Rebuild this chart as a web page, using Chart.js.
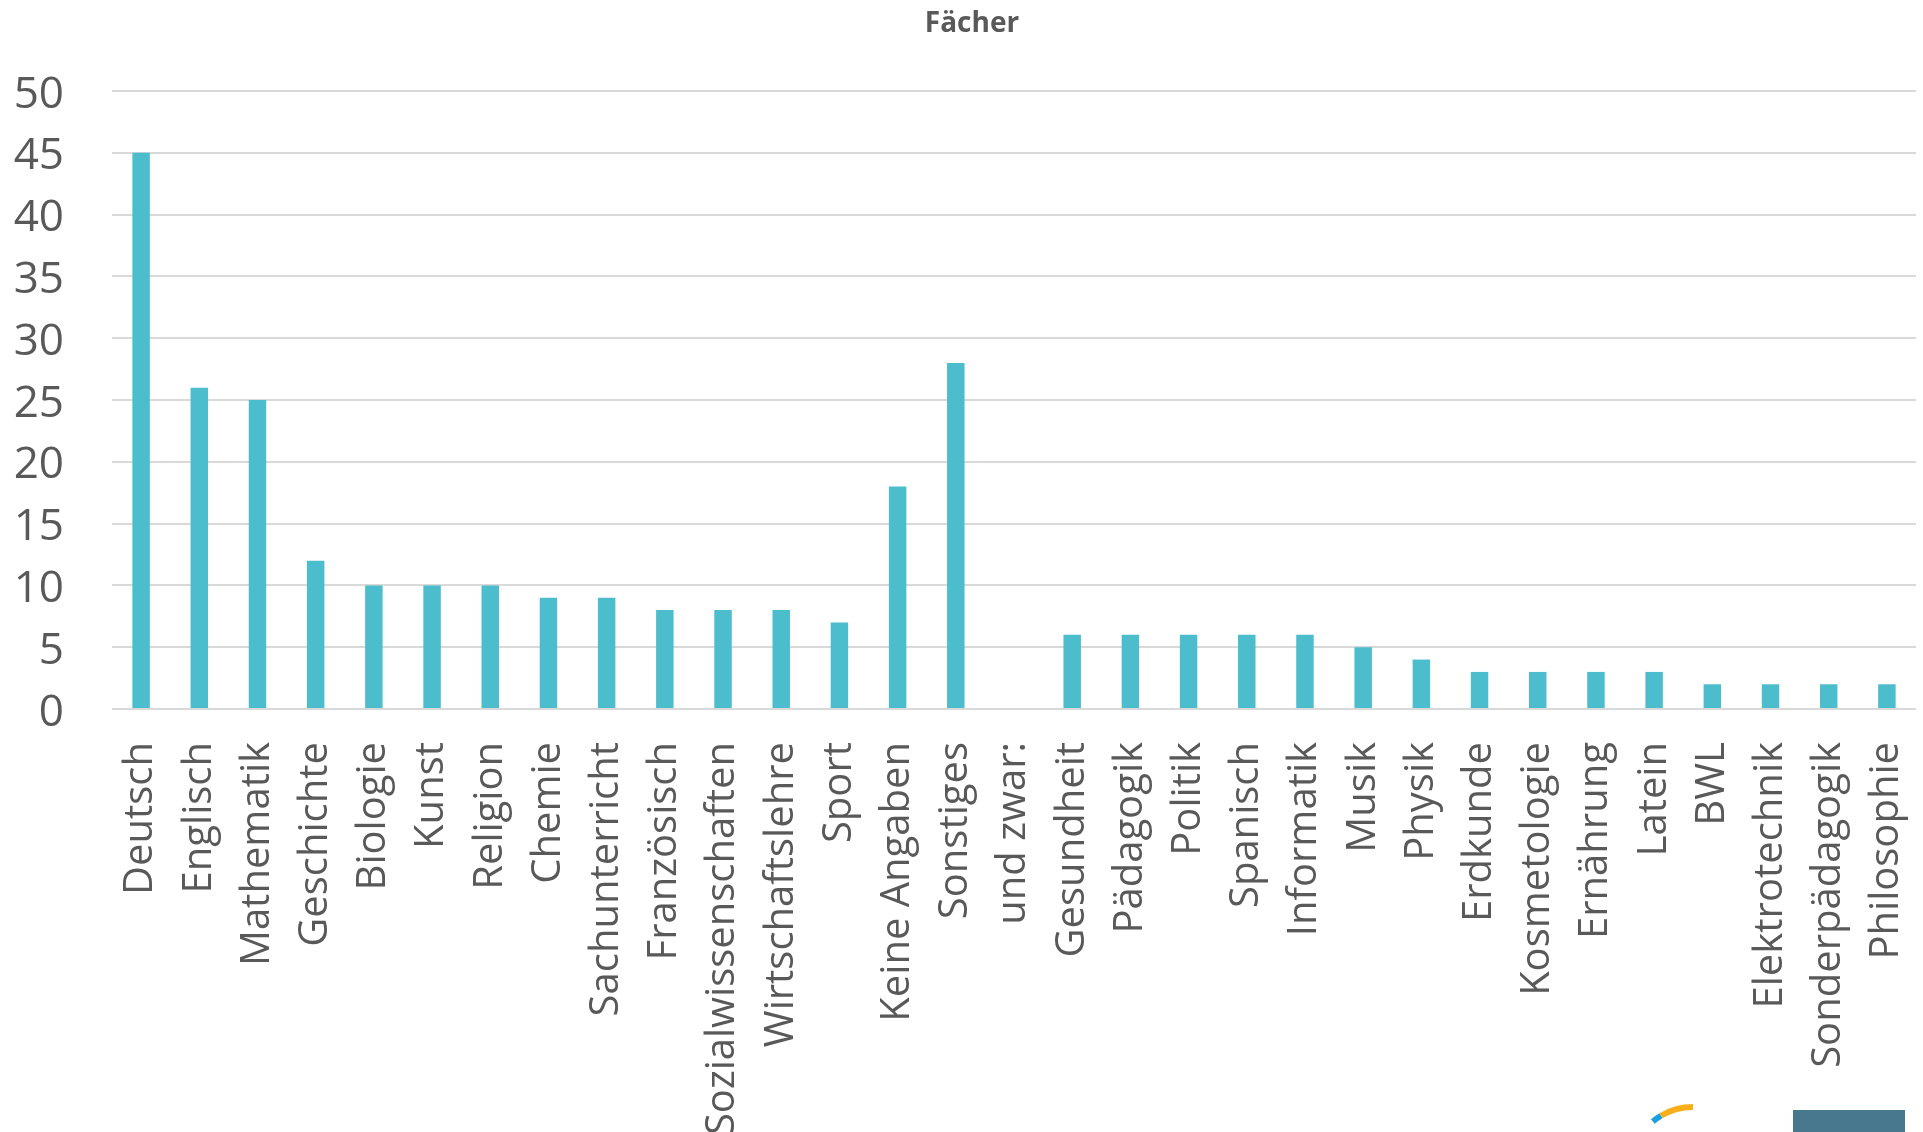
<!DOCTYPE html>
<html>
<head>
<meta charset="utf-8">
<script src="https://cdn.jsdelivr.net/npm/chart.js@4"></script>
<style>
  body { margin: 0; background: #ffffff; }
  #wrap { position: relative; width: 1923px; height: 1132px; overflow: hidden; }
</style>
</head>
<body>
<div id="wrap"><canvas id="chart" width="1923" height="1132"></canvas></div>
<script>
// Kategorijas (fächer) un vērtības
var subjects = ['Deutsch', 'Englisch', 'Mathematik', 'Geschichte', 'Biologie', 'Kunst', 'Religion',
    'Chemie', 'Sachunterricht', 'Französisch', 'Sozialwissenschaften', 'Wirtschaftslehre', 'Sport',
    'Keine Angaben', 'Sonstiges', 'und zwar:', 'Gesundheit', 'Pädagogik', 'Politik', 'Spanisch',
    'Informatik', 'Musik', 'Physik', 'Erdkunde', 'Kosmetologie', 'Ernährung', 'Latein', 'BWL',
    'Elektrotechnik', 'Sonderpädagogik', 'Philosophie'];
var counts = [45, 26, 25, 12, 10, 10, 10, 9, 9, 8, 8, 8, 7, 18, 28, null, 6, 6, 6, 6, 6, 5, 4, 3, 3, 3, 3, 2, 2, 2, 2];
var yTicks = [0, 5, 10, 15, 20, 25, 30, 35, 40, 45, 50];
var chartTitle = 'Fächer';

var textColor = '#595959';
var gridColor = '#d9d9d9';

// Virsraksts un logo fragmenti apakšējā labajā stūrī
var extras = {
    id: 'extras',
    afterDraw: function (chart) {
        var ctx = chart.ctx;
        ctx.save();
        ctx.fillStyle = textColor;
        ctx.font = 'bold 28px "Open Sans"';
        ctx.textAlign = 'center';
        ctx.textBaseline = 'middle';
        ctx.fillText(chartTitle, 972, 24);

        ctx.fillStyle = '#47788e';
        ctx.fillRect(1793, 1110, 112, 30);
        ctx.lineWidth = 6;
        ctx.strokeStyle = '#f9ae1b';
        ctx.beginPath();
        ctx.arc(1693, 1170, 63, Math.PI * 1.33, Math.PI * 1.5);
        ctx.stroke();
        ctx.strokeStyle = '#1ba1e2';
        ctx.beginPath();
        ctx.arc(1693, 1170, 63, Math.PI * 1.28, Math.PI * 1.33);
        ctx.stroke();
        ctx.restore();
    }
};

var ctx = document.getElementById('chart').getContext('2d');
var chart = new Chart(ctx, {
    type: 'bar',
    data: {
        labels: subjects,
        datasets: [{
            label: chartTitle,
            data: counts,
            backgroundColor: '#4bbdcc',
            borderWidth: 0,
            barPercentage: 0.6,
            categoryPercentage: 0.5
        }]
    },
    options: {
        responsive: false,
        animation: false,
        devicePixelRatio: 1,
        layout: { padding: { left: 0, right: 7, top: 91, bottom: 0 } },
        scales: {
            y: {
                min: 0,
                max: 50,
                afterBuildTicks: function (axis) {
                    axis.ticks = yTicks.map(function (v) { return { value: v }; });
                },
                afterFit: function (axis) { axis.width = 112; },
                border: { display: false },
                grid: { color: gridColor, lineWidth: 2, drawTicks: false },
                ticks: {
                    color: textColor,
                    padding: 48,
                    labelOffset: 4,
                    font: { family: 'Open Sans', size: 44 }
                }
            },
            x: {
                afterFit: function (axis) {
                    axis.height = 423;
                    axis.paddingLeft = 0;
                    axis.paddingRight = 0;
                },
                border: { display: false },
                grid: { display: false },
                ticks: {
                    color: textColor,
                    minRotation: 90,
                    maxRotation: 90,
                    autoSkip: false,
                    padding: 25,
                    font: { family: 'Open Sans', size: 40 }
                }
            }
        },
        plugins: {
            legend: { display: false },
            tooltip: { enabled: false },
            title: { display: false }
        }
    },
    plugins: [extras]
});
</script>
</body>
</html>
